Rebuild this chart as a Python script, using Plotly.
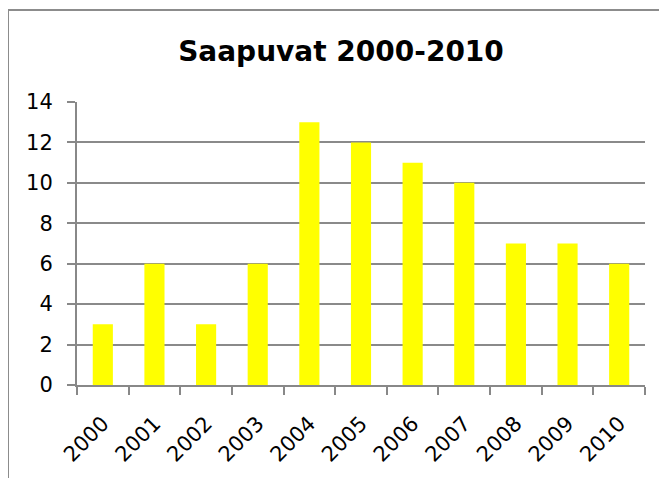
import plotly.graph_objects as go

years = ["2000", "2001", "2002", "2003", "2004", "2005", "2006", "2007", "2008", "2009", "2010"]
values = [3, 6, 3, 6, 13, 12, 11, 10, 7, 7, 6]
y_ticks = [0, 2, 4, 6, 8, 10, 12, 14]

# page body has an 8px margin; shift layout accordingly
OFF = 8
W, H = 667, 478
L, R, T, B = 77 - OFF, W - (645 - OFF), 102 - OFF, H - (385 - OFF)
pw, ph = W - L - R, H - T - B

def px_x(p):
    return (p - OFF - L) / pw

def px_y(p):
    return (H - B - (p - OFF)) / ph

fig = go.Figure(go.Bar(
    x=years, y=values,
    marker=dict(color="#FFFF00", line=dict(width=0)),
    width=0.39,
))

font_main = "DejaVu Sans"
fig.update_layout(
    width=W, height=H,
    margin=dict(l=L, r=R, t=T, b=B),
    paper_bgcolor="white", plot_bgcolor="white",
    showlegend=False,
    title=dict(text="<b>Saapuvat 2000-2010</b>", x=px_x(341), xref="paper", xanchor="center",
               y=1 - (51 - OFF) / H, yanchor="middle",
               font=dict(family=font_main, size=28, color="black")),
    font=dict(family=font_main, color="black"),
    xaxis=dict(type="category", tickson="boundaries", ticks="outside", ticklen=8,
               tickcolor="#888888", tickwidth=2, showline=True, linecolor="#888888",
               linewidth=2, tickangle=-45, tickfont=dict(size=21), showgrid=False,
               ticklabelstandoff=16),
    yaxis=dict(range=[0, 14], tickvals=y_ticks, ticks="outside", ticklen=8,
               tickcolor="#888888", tickwidth=2, showline=True, linecolor="#888888",
               linewidth=2, showgrid=True, gridcolor="#8a8a8a", gridwidth=2,
               tickfont=dict(size=21), zeroline=False, ticklabelstandoff=10),
    shapes=[
        dict(type="rect", xref="paper", yref="paper",
             x0=px_x(8), x1=px_x(W + 40), y0=px_y(10), y1=px_y(H + 40),
             line=dict(color="#8c8c8c", width=2), fillcolor="rgba(0,0,0,0)", layer="below"),
    ],
)

fig.write_html("out.html")
